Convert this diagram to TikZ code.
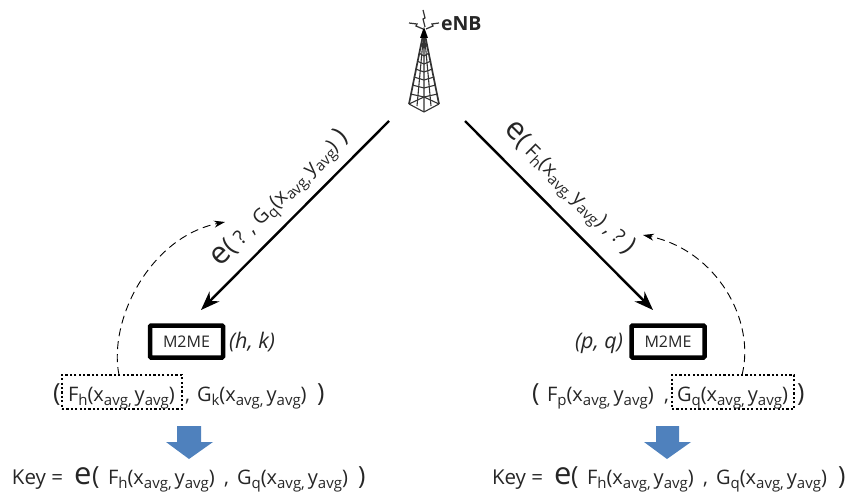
\documentclass[tikz,border=0pt]{standalone}
\usepackage{fontspec}
\setmainfont{Open Sans}
\usetikzlibrary{arrows.meta}
\newcommand{\sbx}[1]{\raisebox{-0.2em}{\fontsize{15}{14}\selectfont #1}}
\newcommand{\FF}[2]{#1\sbx{#2}(x\sbx{avg,}\hspace{3pt}y\sbx{avg})}
\newcommand{\bige}{{\fontsize{31}{30}\selectfont e}}
\newcommand{\bigp}{{\fontsize{25}{25}\selectfont (}}
\newcommand{\bigq}{{\fontsize{25}{25}\selectfont )}}
\definecolor{blockblue}{HTML}{4F81BD}
\definecolor{ink}{HTML}{262626}
\tikzset{
  every node/.style={inner sep=0pt,outer sep=0pt,font=\fontsize{20}{22}\selectfont,text=ink},
  mainarrow/.style={line width=2.4pt,-{Stealth[length=19pt,width=14pt]}},
  returnarrow/.style={line width=0.9pt,dash pattern=on 8pt off 5pt,-{Stealth[length=11pt,width=7pt]}},
  m2me/.style={draw=black,line width=4.5pt,rounded corners=1pt,minimum width=73pt,minimum height=32pt,fill=white,font=\fontsize{16}{20}\selectfont},
  dotbox/.style={draw=black,line width=1.1pt,dash pattern=on 2.2pt off 2.2pt},
  towerline/.style={line width=1.1pt,black!80},
  lab/.style={anchor=base west},
  ital/.style={anchor=base west,font=\itshape\fontsize{21.5}{22}\selectfont}
}
\begin{document}
\begin{tikzpicture}[x=1pt,y=-1pt]
\useasboundingbox (0,0) rectangle (845,494);
% tower
\draw[towerline,line width=1.7pt] (424,30) -- (409,104) (424,30) -- (439,104);
\draw[towerline] (424,30) -- (417,106) (424,30) -- (431,106) (424,30)--(424,112);
\foreach \yy/\w in {45/3.5,53/5.2,61/7,69/8.6,77/10.2,85/11.8,94/13.5}{
  \draw[towerline] (424-\w,\yy) -- (424,\yy+3) -- (424+\w,\yy);
}
\draw[towerline] (409,104) -- (424,97) -- (439,104) (409,104) -- (424,112) -- (439,104);
\fill[black] (420,38) -- (424,27) -- (428,38) -- cycle;
\draw[black!80,line width=1.2pt] (423,10) -- (425,18) -- (423,19) -- (425,27);
\draw[black!80,line width=1.2pt] (409,23) -- (417,24) -- (416,26) -- (423,29);
\draw[black!80,line width=1.2pt] (439,23) -- (432,24) -- (433,26) -- (426,29);
\node[lab,font=\bfseries\fontsize{19.5}{20}\selectfont] (enb) at (441,31) {eNB};
% main arrows
\coordinate (ls) at (389,121); \coordinate (le) at (201,310);
\coordinate (rs) at (465,121); \coordinate (re) at (653,310);
\draw[mainarrow] (ls) -- (le);
\draw[mainarrow] (rs) -- (re);
% M2ME
\node[m2me] (ml) at (186.5,341.5) {M2ME};
\node[m2me] (mr) at (668,341.5) {M2ME};
\node[ital] (hk) at (229,348) {(h, k)};
\node[ital] (pq) at (575,348) {(p, q)};
% dotted boxes
\node[dotbox,minimum width=120pt,minimum height=34pt] (dl) at (122,392) {};
\node[dotbox,minimum width=122pt,minimum height=34pt] (dr) at (733,392) {};
% dashed
\coordinate (lt) at (225,222); \coordinate (rt) at (643,235);
\draw[returnarrow] ([xshift=-3pt]dl.north) .. controls (108,320) and (150,237) .. (lt);
\draw[returnarrow] ([xshift=9pt]dr.north) .. controls (756,320) and (716,250) .. (rt);
% tuple left
\node[lab] (a1) at (53,401) {\bigp};
\node[lab] (a2) at (68,401) {\FF{F}{h}};
\node[lab] (a3) at (185,401) {,};
\node[lab] (a4) at (197,401) {\FF{G}{k}};
\node[lab] (a5) at (317,401) {\bigq};
% tuple right
\node[lab] (b1) at (532,401) {\bigp};
\node[lab] (b2) at (547,401) {\FF{F}{p}};
\node[lab] (b3) at (664,401) {,};
\node[lab] (b4) at (677,401) {\FF{G}{q}};
\node[lab] (b5) at (797,401) {\bigq};
% block arrows
\fill[blockblue] (177,426) -- (201,426) -- (201,442) -- (213,442) -- (189,459) -- (166,442) -- (177,442) -- cycle;
\fill[blockblue] (656,426) -- (679,426) -- (679,442) -- (691,442) -- (667,459) -- (644,442) -- (656,442) -- cycle;
% key left
\node[lab,font=\fontsize{20.5}{22}\selectfont] (c1) at (12,484) {Key =};
\node[lab] (c2) at (74,484) {\bige};
\node[lab] (c3) at (92,484) {\bigp};
\node[lab] (c4) at (108,484) {\FF{F}{h}};
\node[lab] (c5) at (224,484) {,};
\node[lab] (c6) at (237,484) {\FF{G}{q}};
\node[lab] (c7) at (358,484) {\bigq};
% key right
\node[lab,font=\fontsize{20.5}{22}\selectfont] (d1) at (492,484) {Key =};
\node[lab] (d2) at (554,484) {\bige};
\node[lab] (d3) at (571,484) {\bigp};
\node[lab] (d4) at (587,484) {\FF{F}{h}};
\node[lab] (d5) at (703,484) {,};
\node[lab] (d6) at (716,484) {\FF{G}{q}};
\node[lab] (d7) at (838,484) {\bigq};
% rotated labels
\node[lab,rotate=45] (ll) at (220,267) {\bige\bigp\hspace{6pt}? ,\hspace{6pt}\FF{G}{q}\hspace{6pt}\bigq};
\node[lab,rotate=-45] (lr) at (503,131) {\bige\bigp\hspace{5pt}\FF{F}{h}\hspace{5pt},\hspace{6pt}?\hspace{7pt}\bigq};
\end{tikzpicture}
\end{document}
